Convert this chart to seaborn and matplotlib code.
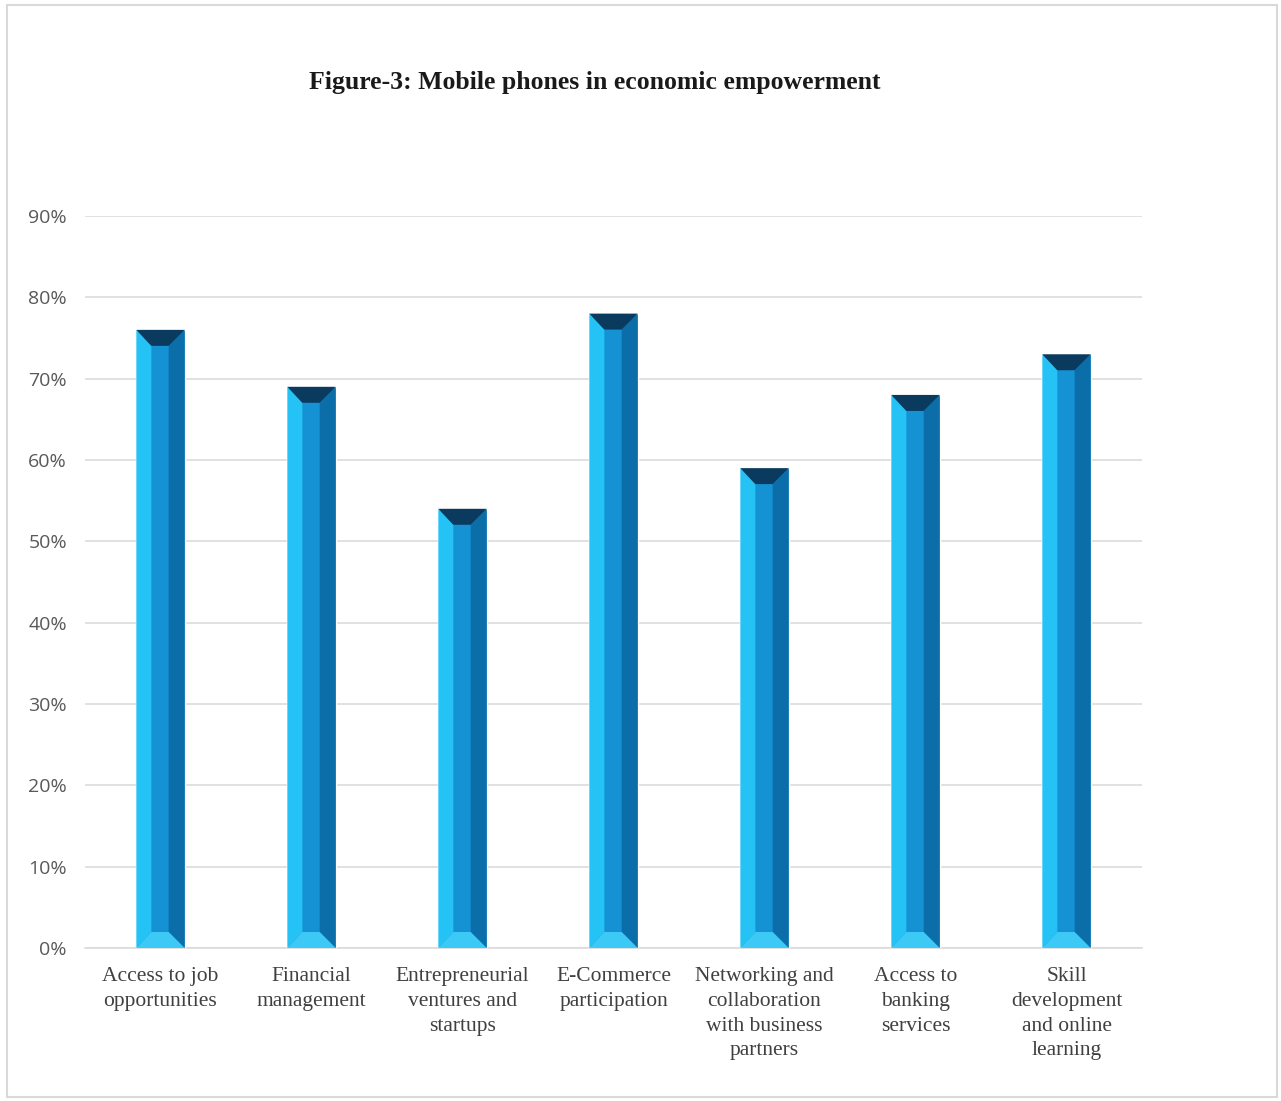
import matplotlib
matplotlib.use("Agg")
import matplotlib.pyplot as plt
from matplotlib.patches import Polygon, Rectangle
from matplotlib.ticker import PercentFormatter
import pandas as pd
import seaborn as sns

categories = [
    "Access to job\nopportunities",
    "Financial\nmanagement",
    "Entrepreneurial\nventures and\nstartups",
    "E-Commerce\nparticipation",
    "Networking and\ncollaboration\nwith business\npartners",
    "Access to\nbanking\nservices",
    "Skill\ndevelopment\nand online\nlearning",
]
values = [0.76, 0.69, 0.54, 0.78, 0.59, 0.68, 0.73]

df = pd.DataFrame({"category": categories, "value": values})

sns.set_theme(style="white")
plt.rcParams["font.family"] = ["Liberation Serif", "DejaVu Serif"]

fig = plt.figure(figsize=(12.81, 11.01), dpi=100)
ax = fig.add_axes([85 / 1281, 1 - 948 / 1101, (1142 - 85) / 1281, (948 - 216) / 1101])

sns.barplot(data=df, x="category", y="value", color="#1592D4", width=0.32,
            saturation=1, ax=ax, zorder=3)

ax.set_ylim(0, 0.9)
ax.set_xlim(-0.5, len(categories) - 0.5)
ax.set_yticks([i / 10 for i in range(10)])
ax.yaxis.set_major_formatter(PercentFormatter(1.0, decimals=0))
ax.grid(axis="y", color="#D9D9D9", linewidth=1.1, zorder=0)
ax.set_axisbelow(True)
for s in ["top", "right", "left"]:
    ax.spines[s].set_visible(False)
ax.spines["bottom"].set_color("#D9D9D9")
ax.spines["bottom"].set_linewidth(1.1)
ax.set_xlabel("")
ax.set_ylabel("")
ax.tick_params(axis="both", length=0)
ax.tick_params(axis="y", pad=13)
ax.tick_params(axis="x", pad=14)
for lbl in ax.get_yticklabels():
    lbl.set_family(["Open Sans", "DejaVu Sans"])
    lbl.set_fontsize(14)
    lbl.set_color("#595959")
for lbl in ax.get_xticklabels():
    lbl.set_fontsize(15.5)
    lbl.set_color("#404040")
    lbl.set_linespacing(1.4)

# bevel faces on each bar
fig.canvas.draw()
p0 = ax.transData.transform((0, 0))
p1 = ax.transData.transform((1, 1))
px_x = p1[0] - p0[0]
px_y = p1[1] - p0[1]
for bar in list(ax.patches):
    x0 = bar.get_x()
    w = bar.get_width()
    h = bar.get_height()
    x1 = x0 + w
    dxl = 15 / px_x
    dxr = 16 / px_x
    dy = 16 / px_y
    faces = [
        ([(x0, 0), (x0 + dxl, dy), (x0 + dxl, h - dy), (x0, h)], "#25C2F5"),
        ([(x1, 0), (x1 - dxr, dy), (x1 - dxr, h - dy), (x1, h)], "#0B6EA9"),
        ([(x0, 0), (x1, 0), (x1 - dxr, dy), (x0 + dxl, dy)], "#3CC9F6"),
        ([(x0, h), (x1, h), (x1 - dxr, h - dy), (x0 + dxl, h - dy)], "#0A3B5E"),
    ]
    for pts, c in faces:
        ax.add_patch(Polygon(pts, closed=True, facecolor=c, edgecolor="none", zorder=4))

fig.text(595 / 1281, 1 - 82 / 1101, "Figure-3: Mobile phones in economic empowerment",
         ha="center", va="center", fontsize=18.5, fontweight="bold", color="#1A1A1A")

fig.patches.append(Rectangle((7 / 1281, 4 / 1101), 1270 / 1281, 1092 / 1101,
                             transform=fig.transFigure, fill=False,
                             edgecolor="#D9D9D9", linewidth=1.5))

fig.savefig("out.png", dpi=100, facecolor="white")
